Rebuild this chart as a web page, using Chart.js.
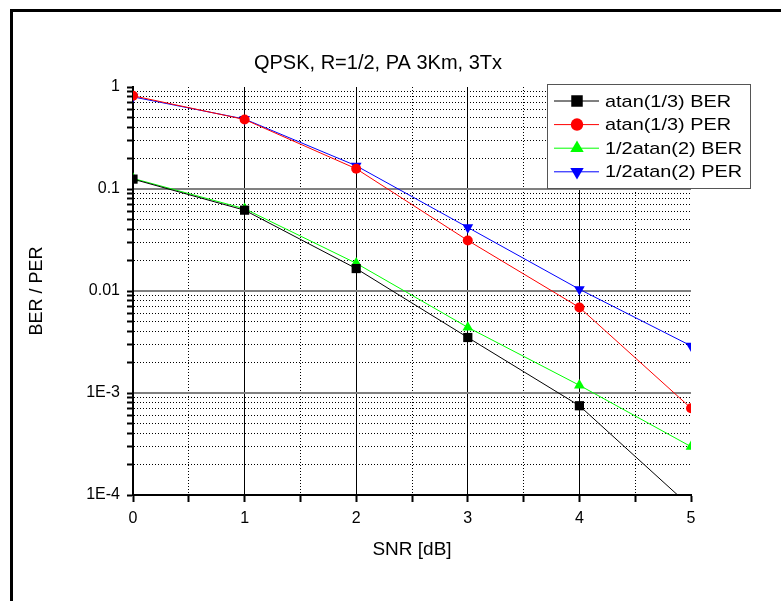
<!DOCTYPE html>
<html>
<head>
<meta charset="utf-8">
<script src="https://cdn.jsdelivr.net/npm/chart.js@4/dist/chart.umd.min.js"></script>
<style>
  body { margin: 0; background: #fff; overflow: hidden; }
  #lineaArriba { position: absolute; left: 10px; top: 9px; width: 771px; height: 3px; background: #000; }
  #lineaIzq { position: absolute; left: 10px; top: 9px; width: 3px; height: 592px; background: #000; }
  #contenedor { position: absolute; left: 0; top: 0; width: 781px; height: 601px; }
</style>
</head>
<body>
<div id="lineaArriba"></div>
<div id="lineaIzq"></div>
<div id="contenedor"><canvas id="myChart" width="781" height="601"></canvas></div>
<script>
// datos
const snr = [0, 1, 2, 3, 4, 5];
const atanBER = [0.125, 0.062, 0.0166, 0.0035, 0.00075, 0.000076];
const atanPER = [0.82, 0.48, 0.158, 0.0313, 0.0069, 0.00071];
const halfBER = [0.127, 0.064, 0.0187, 0.0044, 0.00119, 0.000298];
const halfPER = [0.80, 0.485, 0.169, 0.042, 0.0104, 0.0029];

const nombres = ['atan(1/3) BER', 'atan(1/3) PER', '1/2atan(2) BER', '1/2atan(2) PER'];
const xTicks = [0, 1, 2, 3, 4, 5];
const yTicks = [1e-4, 1e-3, 0.01, 0.1, 1];
const yTickLabels = ['1E-4', '1E-3', '0.01', '0.1', '1'];

Chart.defaults.font.family = '"Liberation Sans", Arial, sans-serif';
Chart.defaults.color = '#000';

// es decada?
function indiceDecada(v) {
    return yTicks.findIndex(t => Math.abs(v - t) < t * 1e-6);
}

// mantisa entera (quita el 1.5 que mete chart.js)
function mantisaEntera(v) {
    const m = v / Math.pow(10, Math.floor(Math.log10(v) + 1e-9));
    return Math.abs(m - Math.round(m)) < 1e-6;
}

function puntos(serie) {
    return snr.map((s, i) => ({ x: s, y: serie[i] }));
}

// leyenda con recuadro encima del grafico
const leyendaPropia = {
    id: 'leyendaPropia',
    afterDraw(chart) {
        const { ctx, chartArea } = chart;
        const x0 = chartArea.right - 144, y0 = chartArea.top - 3, w = 203, h = 104;
        ctx.save();
        ctx.fillStyle = '#fff';
        ctx.fillRect(x0, y0, w, h);
        ctx.strokeStyle = '#555';
        ctx.lineWidth = 1;
        ctx.strokeRect(x0 + 0.5, y0 + 0.5, w, h);
        chart.data.datasets.forEach((ds, i) => {
            const y = y0 + 17 + i * 23.6;
            ctx.strokeStyle = ds.borderColor;
            ctx.lineWidth = 1;
            ctx.beginPath();
            ctx.moveTo(x0 + 7, y);
            ctx.lineTo(x0 + 52, y);
            ctx.stroke();
            ctx.fillStyle = ds.backgroundColor;
            Chart.helpers.drawPoint(ctx, {
                pointStyle: ds.pointStyle,
                radius: ds.pointRadius * 1.25,
                rotation: ds.pointRotation || 0,
                borderWidth: 0
            }, x0 + 30, y);
            // texto un poco estirado como el original
            ctx.save();
            ctx.translate(x0 + 58, y + 1);
            ctx.scale(1.17, 1);
            ctx.fillStyle = '#000';
            ctx.font = '17px "Liberation Sans", Arial, sans-serif';
            ctx.textBaseline = 'middle';
            ctx.fillText(ds.label, 0, 0);
            ctx.restore();
        });
        ctx.restore();
    }
};

const ctx = document.getElementById('myChart').getContext('2d');

const myChart = new Chart(ctx, {
    type: 'line',
    data: {
        datasets: [
            { label: nombres[0], data: puntos(atanBER), borderColor: '#000', backgroundColor: '#000',
              pointStyle: 'rect', pointRadius: 6.5 },
            { label: nombres[1], data: puntos(atanPER), borderColor: '#ff0000', backgroundColor: '#ff0000',
              pointStyle: 'circle', pointRadius: 5 },
            { label: nombres[2], data: puntos(halfBER), borderColor: '#00ff00', backgroundColor: '#00ff00',
              pointStyle: 'triangle', pointRadius: 6.2 },
            { label: nombres[3], data: puntos(halfPER), borderColor: '#0000ff', backgroundColor: '#0000ff',
              pointStyle: 'triangle', pointRotation: 180, pointRadius: 6.2 }
        ]
    },
    options: {
        responsive: false,
        animation: false,
        layout: { padding: { left: 26, right: 51, top: 51, bottom: 40 } },
        elements: {
            line: { borderWidth: 1, tension: 0 },
            point: { borderWidth: 0, hoverRadius: 6 }
        },
        scales: {
            x: {
                type: 'linear', min: 0, max: 5, position: 'bottom',
                afterFit: s => { s.height = 66; },
                ticks: {
                    stepSize: 0.5, autoSkip: false, maxRotation: 0, padding: 7,
                    font: { size: 16 },
                    callback: v => xTicks.includes(v) ? String(v) : ''
                },
                grid: {
                    color: c => (c.tick && Number.isInteger(c.tick.value)) ? 'rgba(0,0,0,0)' : '#000',
                    lineWidth: 1, tickLength: 7, tickColor: '#000', tickWidth: 2
                },
                border: { display: true, color: '#000', width: 2, dash: [1, 2] },
                title: { display: true, text: 'SNR [dB]', font: { size: 19 }, padding: 0 }
            },
            x2: {
                type: 'linear', min: 0, max: 5, position: 'top',
                afterFit: s => { s.height = 0; },
                ticks: { stepSize: 1, display: false },
                grid: {
                    color: c => (c.tick && c.tick.value > 0 && c.tick.value < 5) ? '#000' : 'rgba(0,0,0,0)',
                    lineWidth: 1, drawTicks: false
                },
                border: { display: false }
            },
            y: {
                type: 'logarithmic', min: 1e-4, max: 1, position: 'left',
                afterBuildTicks: s => { s.ticks = s.ticks.filter(t => mantisaEntera(t.value)); },
                afterFit: s => { s.width = 107; },
                ticks: {
                    autoSkip: false, padding: 7, font: { size: 16 },
                    callback: v => { const k = indiceDecada(v); return k >= 0 ? yTickLabels[k] : ''; }
                },
                grid: {
                    color: c => (c.tick && indiceDecada(c.tick.value) >= 0) ? 'rgba(0,0,0,0)' : '#000',
                    lineWidth: 1, tickLength: 6, tickColor: '#000', tickWidth: 2
                },
                border: { display: true, color: '#000', width: 2, dash: [1, 2] },
                title: { display: true, text: 'BER / PER', font: { size: 18 }, padding: 0 }
            },
            y2: {
                type: 'logarithmic', min: 1e-4, max: 1, position: 'right',
                afterBuildTicks: s => { s.ticks = yTicks.map(v => ({ value: v })); },
                afterFit: s => { s.width = 39; },
                ticks: { display: false },
                grid: {
                    color: c => (c.tick && c.tick.value < 1 && c.tick.value > 1e-4) ? '#808080' : 'rgba(0,0,0,0)',
                    lineWidth: 2, drawTicks: false
                },
                border: { display: false }
            }
        },
        plugins: {
            legend: { display: false },
            tooltip: { enabled: false },
            title: {
                display: true,
                text: 'QPSK, R=1/2, PA 3Km, 3Tx',
                font: { size: 20, weight: 'normal' },
                color: '#000',
                padding: { top: 0, bottom: 12 }
            }
        }
    },
    plugins: [leyendaPropia]
});
</script>
</body>
</html>
